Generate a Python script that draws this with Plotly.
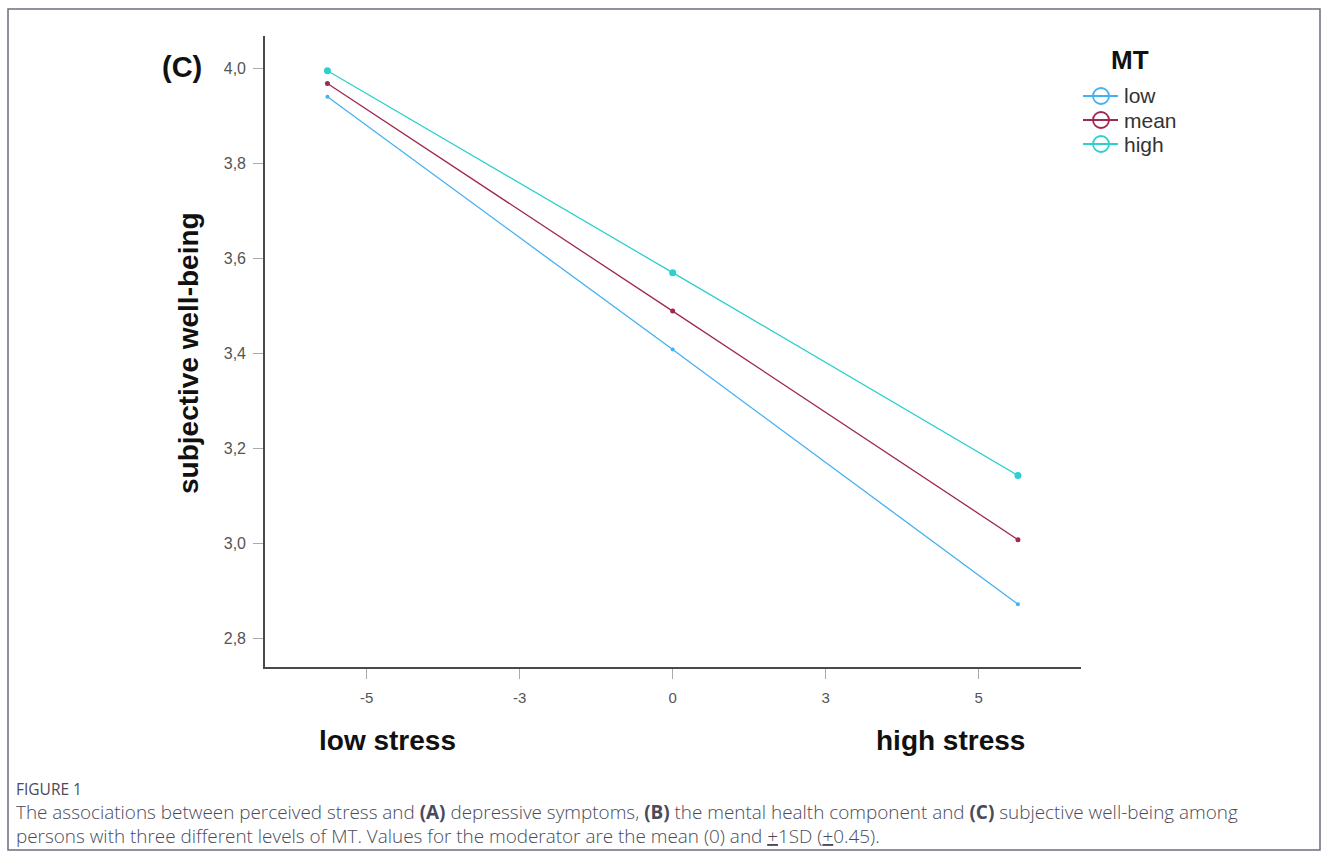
import plotly.graph_objects as go

# ---- data ----
stress_x = [-5.64, 0.0, 5.64]
series_names = ["low", "mean", "high"]
low_vals = [3.940, 3.408, 2.872]
mean_vals = [3.968, 3.489, 3.008]
high_vals = [3.995, 3.570, 3.143]
x_tickvals = [-5, -2.5, 0, 2.5, 5]
x_ticktext = ["-5", "-3", "0", "3", "5"]
y_tickvals = [2.8, 3.0, 3.2, 3.4, 3.6, 3.8, 4.0]
y_ticktext = ["2,8", "3,0", "3,2", "3,4", "3,6", "3,8", "4,0"]
legend_title = "MT"

colors = {"low": "#45b0f2", "mean": "#a0284f", "high": "#2dcfcf"}
msizes = {"low": 4, "mean": 5, "high": 7}
values = {"low": low_vals, "mean": mean_vals, "high": high_vals}

W, H = 1329, 857
L, R, T, B = 265, 1081, 36, 667
pw, ph = R - L, B - T


def px(x):
    return (x - L) / pw


def py(y):
    return (B - y) / ph


ARIAL = "Liberation Sans, Arial, sans-serif"

fig = go.Figure()
for name in series_names:
    fig.add_trace(go.Scatter(
        x=stress_x, y=values[name], mode="lines+markers", name=name,
        line=dict(color=colors[name], width=1.3),
        marker=dict(color=colors[name], size=msizes[name]),
        showlegend=False, hoverinfo="skip"))

fig.update_layout(
    width=W, height=H,
    margin=dict(l=L, r=W - R, t=T, b=H - B),
    paper_bgcolor="white", plot_bgcolor="white",
    showlegend=False,
    xaxis=dict(
        range=[-6.66, 6.67], tickmode="array", tickvals=x_tickvals, ticktext=x_ticktext,
        showline=True, linecolor="#4a4a4a", linewidth=1.6, mirror=False,
        showgrid=False, zeroline=False,
        ticks="outside", ticklen=10, tickcolor="#aaaaaa", tickwidth=1.2,
        ticklabelstandoff=6,
        tickfont=dict(family=ARIAL, size=15, color="#555555"),
    ),
    yaxis=dict(
        range=[2.740, 4.068], tickmode="array", tickvals=y_tickvals, ticktext=y_ticktext,
        showline=True, linecolor="#4a4a4a", linewidth=1.6, mirror=False,
        showgrid=False, zeroline=False,
        ticks="outside", ticklen=10, tickcolor="#aaaaaa", tickwidth=1.2,
        ticklabelstandoff=4,
        tickfont=dict(family=ARIAL, size=16, color="#555555"),
    ),
)

bold = dict(family=ARIAL, size=28, color="#111111")
ann = [
    dict(text="<b>(C)</b>", x=px(182), y=py(67), font=dict(family=ARIAL, size=29, color="#111111")),
    dict(text="<b>subjective well-being</b>", x=px(189), y=py(353), textangle=-90, font=bold),
    dict(text="<b>low stress</b>", x=px(387), y=py(740), font=bold),
    dict(text="<b>high stress</b>", x=px(950), y=py(740), font=bold),
    dict(text="<b>" + legend_title + "</b>", x=px(1130), y=py(60), font=dict(family=ARIAL, size=26, color="#111111")),
]
for a in ann:
    fig.add_annotation(xref="paper", yref="paper", showarrow=False,
                       xanchor="center", yanchor="middle", **a)

# legend (manual, SPSS style)
leg_y = {"low": 96, "mean": 120, "high": 144}
for name in series_names:
    yc = leg_y[name]
    fig.add_shape(type="line", xref="paper", yref="paper",
                  x0=px(1083), x1=px(1118), y0=py(yc), y1=py(yc),
                  line=dict(color=colors[name], width=1.8))
    fig.add_shape(type="circle", xref="paper", yref="paper",
                  x0=px(1101 - 8), x1=px(1101 + 8), y0=py(yc + 8), y1=py(yc - 8),
                  line=dict(color=colors[name], width=1.8), fillcolor="rgba(0,0,0,0)")
    fig.add_annotation(xref="paper", yref="paper", showarrow=False,
                       xanchor="left", yanchor="middle", x=px(1122), y=py(yc),
                       text=name, font=dict(family=ARIAL, size=21, color="#333333"))

cap_font = dict(family="Open Sans, Lato, sans-serif", size=18.9, color="#4a4a5a", weight=300)
fig.add_annotation(xref="paper", yref="paper", showarrow=False, xanchor="left", yanchor="middle",
                   x=px(14), y=py(789), text="FIGURE 1",
                   font=dict(family="Open Sans, Lato, sans-serif", size=15.5, color="#4a4a5a"))
fig.add_annotation(xref="paper", yref="paper", showarrow=False, xanchor="left", yanchor="middle",
                   x=px(14), y=py(812),
                   text="The associations between perceived stress and <b>(A)</b> depressive symptoms, <b>(B)</b> the mental health component and <b>(C)</b> subjective well-being among",
                   font=cap_font)
fig.add_annotation(xref="paper", yref="paper", showarrow=False, xanchor="left", yanchor="middle",
                   x=px(14), y=py(836),
                   text="persons with three different levels of MT. Values for the moderator are the mean (0) and <u>+</u>1SD (<u>+</u>0.45).",
                   font=cap_font)

# frame around figure
fig.add_shape(type="rect", xref="paper", yref="paper",
              x0=px(8), x1=px(1320), y0=py(850), y1=py(9),
              line=dict(color="#6e6e7e", width=1.5), fillcolor="rgba(0,0,0,0)", layer="below")

fig.write_html("out.html", config={"displayModeBar": False})

# remove default page margin so the figure sits at the window origin
with open("out.html", "r", encoding="utf-8") as f:
    html = f.read()
html = html.replace("<head>", "<head><style>html,body{margin:0;padding:0;overflow:hidden;}</style>", 1)
with open("out.html", "w", encoding="utf-8") as f:
    f.write(html)
